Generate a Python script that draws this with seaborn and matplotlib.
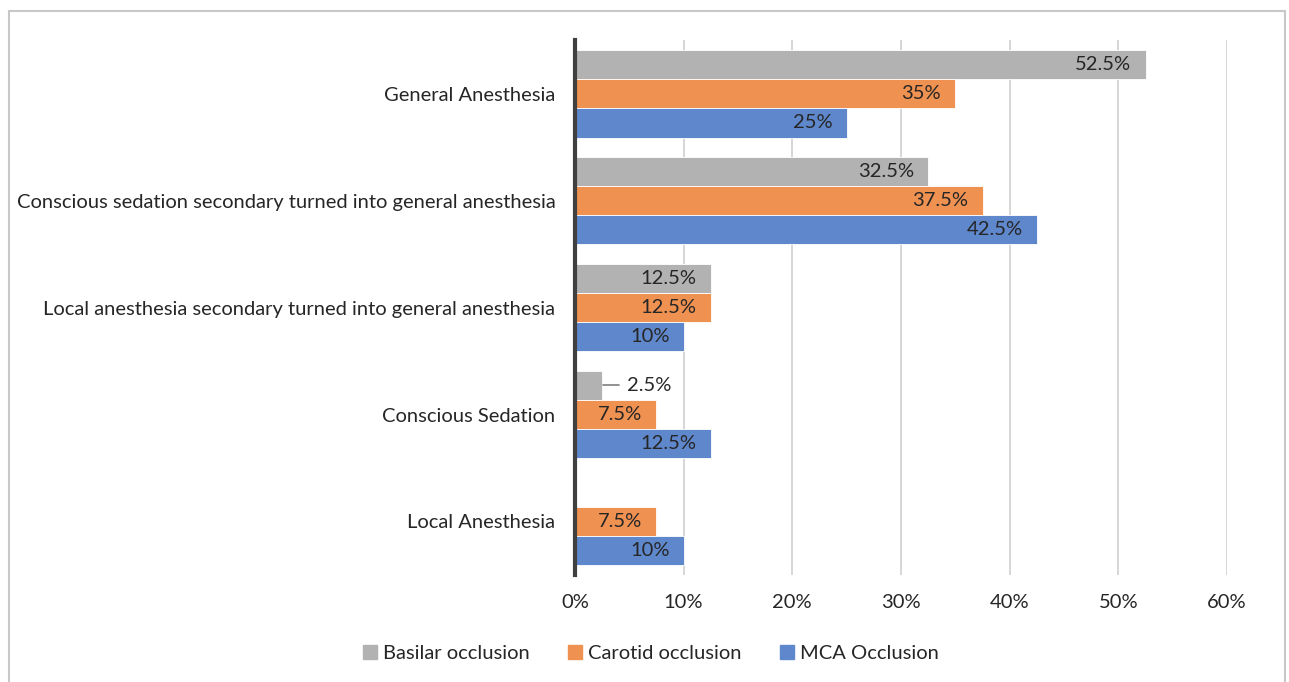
import matplotlib
matplotlib.use("Agg")
import matplotlib.pyplot as plt
import seaborn as sns
import pandas as pd
from matplotlib.patches import Rectangle

# Datos del gráfico
categorias = [
    "General Anesthesia",
    "Conscious sedation secondary turned into general anesthesia",
    "Local anesthesia secondary turned into general anesthesia",
    "Conscious Sedation",
    "Local Anesthesia",
]
series = ["Basilar occlusion", "Carotid occlusion", "MCA Occlusion"]
basilar = [52.5, 32.5, 12.5, 2.5, 0]
carotid = [35, 37.5, 12.5, 7.5, 7.5]
mca = [25, 42.5, 10, 12.5, 10]
colores = ["#b2b2b2", "#ef9150", "#5f87cc"]

df = pd.DataFrame({
    "categoria": categorias * 3,
    "serie": [series[0]] * 5 + [series[1]] * 5 + [series[2]] * 5,
    "valor": basilar + carotid + mca,
})

sns.set_style("white")
plt.rcParams["font.family"] = ["Lato", "DejaVu Sans"]
fs = 14.5

fig = plt.figure(figsize=(12.89, 6.82), dpi=100)
ax = fig.add_axes([0.446, 0.157, 0.506, 0.784])

sns.barplot(data=df, y="categoria", x="valor", hue="serie", order=categorias,
            hue_order=series, palette=colores, width=0.82, orient="h",
            saturation=1, edgecolor="white", linewidth=0.6, ax=ax)

ax.set_xlim(0, 60)
ax.set_ylim(len(categorias) - 0.5, -0.5)
ax.set_xticks(range(0, 61, 10))
ax.set_xticklabels([f"{t}%" for t in range(0, 61, 10)], fontsize=fs)
ax.tick_params(axis="y", labelsize=fs, pad=14, length=0)
ax.tick_params(axis="x", length=0, pad=14)
ax.set_xlabel("")
ax.set_ylabel("")
ax.xaxis.grid(True, color="#d0d0d0", linewidth=1.2)
ax.set_axisbelow(True)
for s in ["top", "right", "bottom"]:
    ax.spines[s].set_visible(False)
ax.spines["left"].set_color("#404040")
ax.spines["left"].set_linewidth(3)

# Etiquetas de datos
for cont, vals in zip(ax.containers, [basilar, carotid, mca]):
    for barra, v in zip(cont, vals):
        if v == 0:
            continue
        yc = barra.get_y() + barra.get_height() / 2
        txt = f"{v:g}%"
        if v < 5:
            ax.plot([v + 0.1, v + 1.6], [yc, yc], color="#7f7f7f", lw=1.2)
            ax.text(v + 2.3, yc, txt, ha="left", va="center", fontsize=fs)
        else:
            ax.text(v - 1.3, yc, txt, ha="right", va="center", fontsize=fs)

ax.get_legend().remove()
handles = [Rectangle((0, 0), 1, 1, color=c) for c in colores]
fig.legend(handles, series, loc="center", bbox_to_anchor=(0.505, 0.042),
           ncol=3, frameon=False, fontsize=fs, handlelength=0.7,
           handleheight=0.7, columnspacing=1.9, handletextpad=0.3)

fig.patches.append(Rectangle((0.007, -0.02), 0.99, 1.004, transform=fig.transFigure,
                             fill=False, edgecolor="#c8c8c8", linewidth=1.5))

fig.savefig("out.png", dpi=100)
